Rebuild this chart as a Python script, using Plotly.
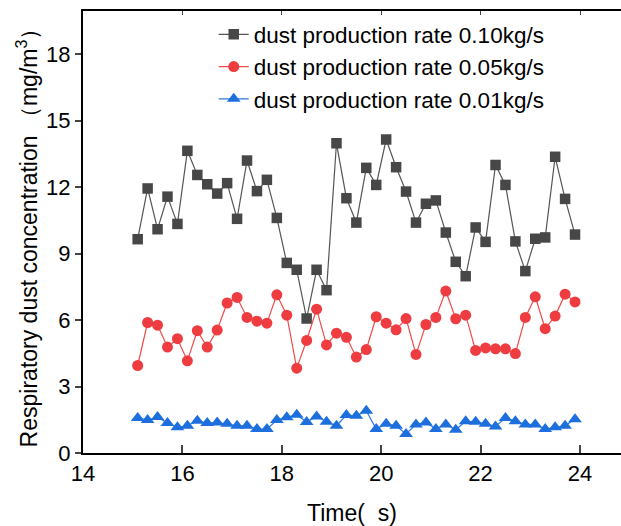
import plotly.graph_objects as go

time_s = [round(15.1 + 0.2 * i, 1) for i in range(45)]

rate_010 = [9.65, 11.94, 10.10, 11.57, 10.34, 13.64, 12.55, 12.13, 11.71, 12.18,
            10.57, 13.20, 11.82, 12.33, 10.61, 8.58, 8.27, 6.07, 8.27, 7.35,
            13.98, 11.50, 10.40, 12.87, 12.10, 14.15, 12.90, 11.80, 10.40, 11.25,
            11.40, 9.95, 8.63, 7.98, 10.18, 9.53, 13.00, 12.10, 9.55, 8.21,
            9.67, 9.73, 13.37, 11.47, 9.86]

rate_005 = [3.95, 5.89, 5.77, 4.78, 5.16, 4.16, 5.52, 4.78, 5.55, 6.77,
            7.02, 6.12, 5.95, 5.86, 7.14, 6.22, 3.83, 5.08, 6.49, 4.88,
            5.41, 5.22, 4.33, 4.67, 6.15, 5.86, 5.56, 6.07, 4.45, 5.80,
            6.12, 7.31, 6.06, 6.22, 4.63, 4.74, 4.70, 4.70, 4.49, 6.12,
            7.05, 5.61, 6.18, 7.17, 6.82]

rate_001 = [1.58, 1.49, 1.62, 1.35, 1.16, 1.23, 1.46, 1.35, 1.38, 1.32,
            1.23, 1.23, 1.08, 1.08, 1.49, 1.61, 1.73, 1.40, 1.65, 1.41,
            1.23, 1.71, 1.68, 1.91, 1.08, 1.32, 1.23, 0.86, 1.29, 1.38,
            1.08, 1.29, 1.05, 1.43, 1.41, 1.32, 1.20, 1.58, 1.43, 1.29,
            1.29, 1.08, 1.16, 1.23, 1.52]

names = ["dust production rate 0.10kg/s",
         "dust production rate 0.05kg/s",
         "dust production rate 0.01kg/s"]

x_ticks = [14, 16, 18, 20, 22, 24]
y_ticks = [0, 3, 6, 9, 12, 15, 18]

FONT = "Liberation Sans, Arial, sans-serif"

fig = go.Figure()
fig.add_trace(go.Scatter(x=time_s, y=rate_010, name=names[0], mode="lines+markers",
                         line=dict(color="#555555", width=1.2),
                         marker=dict(symbol="square", size=10.5, color="#474747")))
fig.add_trace(go.Scatter(x=time_s, y=rate_005, name=names[1], mode="lines+markers",
                         line=dict(color="#F04A4A", width=1.2),
                         marker=dict(symbol="circle", size=11, color="#EE3C40")))
fig.add_trace(go.Scatter(x=time_s, y=rate_001, name=names[2], mode="lines+markers",
                         line=dict(color="#2A78E4", width=1.2),
                         marker=dict(symbol="triangle-up", size=12, color="#1E6FDE")))
# invisible trace to carry the top axis
fig.add_trace(go.Scatter(x=[14], y=[0], xaxis="x2", mode="markers",
                         marker=dict(opacity=0), showlegend=False, hoverinfo="skip"))

xr = [14, 24.825]
fig.update_layout(
    width=621, height=526,
    margin=dict(l=83, r=0, t=11, b=73),
    paper_bgcolor="white", plot_bgcolor="white",
    font=dict(family=FONT, size=22, color="black"),
    showlegend=True,
    legend=dict(x=0.243, y=0.995, xanchor="left", yanchor="top",
                bgcolor="rgba(0,0,0,0)", font=dict(size=22.5),
                itemwidth=30, tracegroupgap=0),
    xaxis=dict(range=xr, tickvals=x_ticks, ticks="inside", ticklen=8, tickwidth=1.5,
               showline=True, linecolor="black", linewidth=2, showgrid=False,
               zeroline=False, tickfont=dict(size=22),
               title=dict(text="Time(  s)", font=dict(size=23), standoff=20)),
    xaxis2=dict(range=xr, overlaying="x", side="top", anchor="y", tickvals=x_ticks,
                ticks="inside", ticklen=4, showticklabels=False, showline=True,
                linecolor="black", linewidth=1.5, showgrid=False, zeroline=False),
    yaxis=dict(range=[0, 19.95], tickvals=y_ticks, ticks="outside", ticklen=6,
               tickwidth=1.5, showline=True, linecolor="black", linewidth=2,
               showgrid=False, zeroline=False, tickfont=dict(size=22),
               title=dict(text="Respiratory dust concentration （mg/m<sup>3</sup>）",
                          font=dict(size=23), standoff=2)),
)

fig.write_html("out.html")
